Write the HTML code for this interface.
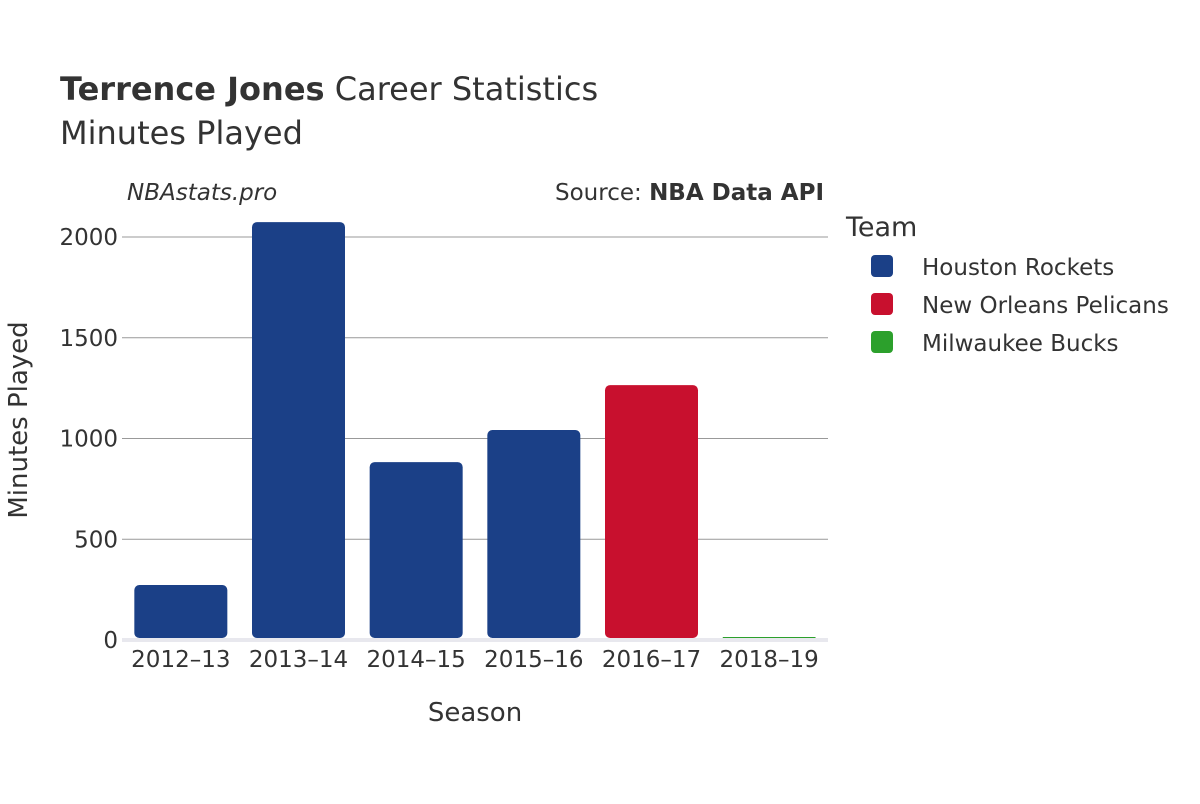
<!DOCTYPE html>
<html><head><meta charset="utf-8"><style>
body{margin:0;background:#fff;font-family:"DejaVu Sans","Liberation Sans",sans-serif;}
svg text{font-family:"DejaVu Sans","Liberation Sans",sans-serif;fill:#333;}
</style></head><body>
<svg id="chart" width="1200" height="800" xmlns="http://www.w3.org/2000/svg">
<text x="60" y="100" font-size="32"><tspan font-weight="bold">Terrence Jones</tspan> Career Statistics</text>
<text x="60" y="144" font-size="32">Minutes Played</text>
<text x="127" y="200" font-size="23" font-style="italic">NBAstats.pro</text>
<text x="824" y="200" font-size="23" text-anchor="end">Source: <tspan font-weight="bold">NBA Data API</tspan></text>
<g id="grid"></g>
<rect x="122" y="638" width="706" height="4" fill="#e8e8ee"/>
<g id="bars"></g>
<g id="xticks"></g>
<text x="475" y="721" font-size="26" text-anchor="middle">Season</text>
<text transform="translate(27,420) rotate(-90)" font-size="26" text-anchor="middle">Minutes Played</text>
<text x="846" y="236" font-size="27">Team</text>
<g id="legend"></g>
</svg>
<script>
const seasons=["2012–13","2013–14","2014–15","2015–16","2016–17","2018–19"];
const minutes=[273,2074,883,1042,1265,5];
const teams=["Houston Rockets","Houston Rockets","Houston Rockets","Houston Rockets","New Orleans Pelicans","Milwaukee Bucks"];
const yTicks=[0,500,1000,1500,2000];
const legendTeams=["Houston Rockets","New Orleans Pelicans","Milwaukee Bucks"];
const colors={"Houston Rockets":"#1b4087","New Orleans Pelicans":"#c8102e","Milwaukee Bucks":"#2ca02c"};
const NS="http://www.w3.org/2000/svg";
const x0=122,x1=828,y0=640,pxPer=403/2000;
const y=v=>y0-v*pxPer;
const band=(x1-x0)/seasons.length;
const bw=93;
function mk(t,a,p){const e=document.createElementNS(NS,t);for(const k in a)e.setAttribute(k,a[k]);p.appendChild(e);return e;}
const grid=document.getElementById('grid');
yTicks.forEach(v=>{
 if(v>0){const l=mk('line',{x1:x0,x2:x1,y1:y(v),y2:y(v),stroke:'#999','stroke-width':1},grid);
 
 }
 const t=mk('text',{x:118,y:y(v)+8,'font-size':23,'text-anchor':'end'},grid);t.textContent=v;
 
 
});
const bars=document.getElementById('bars'),xt=document.getElementById('xticks');
seasons.forEach((s,i)=>{
 const cx=x0+band*(i+0.5),top=y(minutes[i]),h=Math.max(y0-2-top,1);
 const r=mk('rect',{x:cx-bw/2,y:y0-2-h,width:bw,height:h,rx:Math.min(5,h/2),fill:colors[teams[i]]},bars);
 
 
 const t=mk('text',{x:cx,y:667,'font-size':23,'text-anchor':'middle'},xt);t.textContent=s;
 
 
});
const lg=document.getElementById('legend');
legendTeams.forEach((tm,i)=>{
 const cy=266+i*38;
 const r=mk('rect',{x:871,y:cy-11,width:22,height:22,rx:4,fill:colors[tm]},lg);
 
 
 const t=mk('text',{x:922,y:cy+9,'font-size':23},lg);t.textContent=tm;
 
 
});
</script>
</body></html>
